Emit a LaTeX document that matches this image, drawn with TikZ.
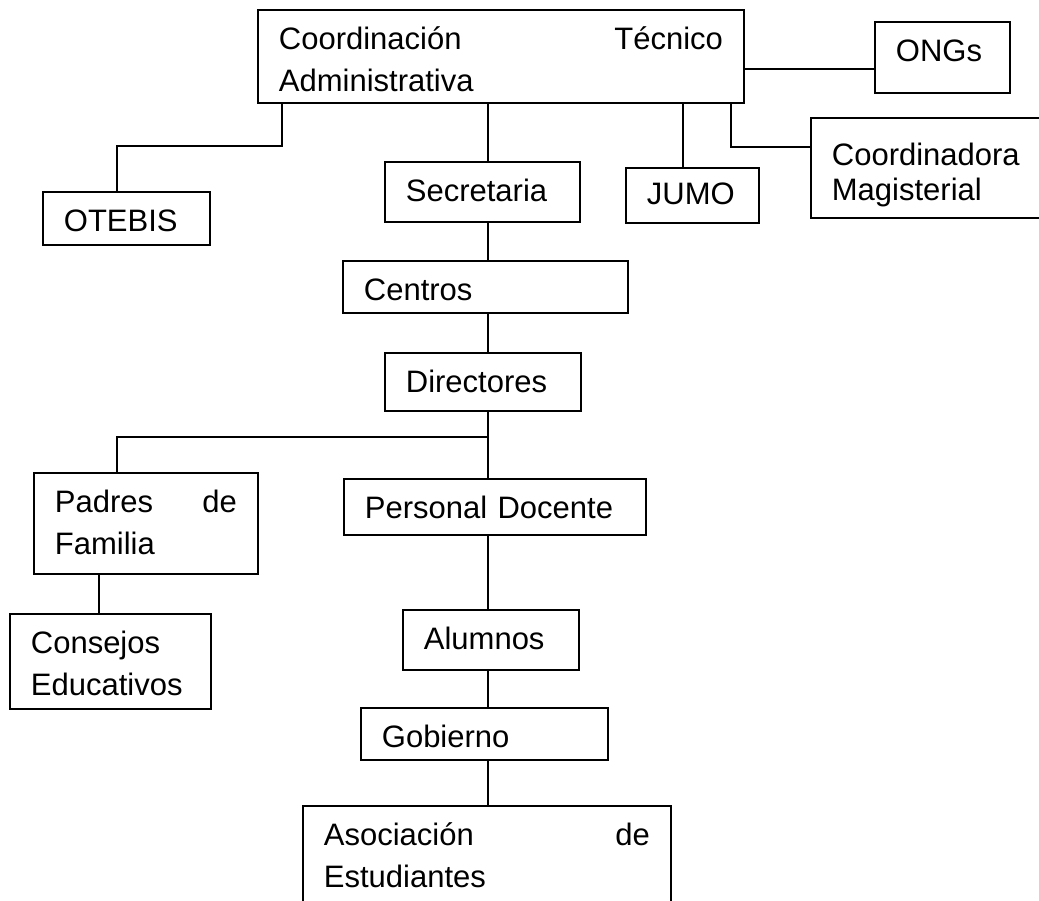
\documentclass[tikz,border=0pt]{standalone}
\usepackage{fontspec}
\setmainfont{Liberation Sans}

\begin{document}
\begin{tikzpicture}[x=1pt,y=-1pt,
	caja/.style 2 args={draw, line width=1.8pt, anchor=north west, inner xsep=21pt, inner ysep=0pt,
		align=left, text width=#1-42, text height=40pt, text depth=#2-40,
		font=\fontsize{31}{42}\selectfont},
	enlace/.style={line width=1.6pt}]
	
	\clip (0,0) rectangle (1039,901);
	
	\node[caja={486}{93}] (cta) at (257,9) {Coordinación\hfill Técnico\\Administrativa};
	\node[caja={135}{71}] (ongs) at (874,21) {ONGs};
	\node[caja={240}{100}, text height=48pt, text depth=52pt, font=\fontsize{31}{35}\selectfont] (coordmag) at (810,117) {Coordinadora\\Magisterial};
	\node[caja={167}{53}] (otebis) at (42,191) {OTEBIS};
	\node[caja={195}{60}] (sec) at (384,161) {Secretaria};
	\node[caja={133}{55}, text height=37pt, text depth=18pt] (jumo) at (625,167) {JUMO};
	\node[caja={285}{52}] (centros) at (342,260) {Centros};
	\node[caja={196}{58}] (dir) at (384,352) {Directores};
	\node[caja={224}{101}] (padres) at (33,472) {Padres\hfill de\\Familia};
	\node[caja={302}{56}] (pdoc) at (343,478) {Personal Docente};
	\node[caja={201}{95}] (consejos) at (9,613) {Consejos\\Educativos};
	\node[caja={176}{60}] (alumnos) at (402,609) {Alumnos};
	\node[caja={247}{52}] (gob) at (360,707) {Gobierno};
	\node[caja={368}{110}] (asoc) at (302,805) {Asociación\hfill de\\Estudiantes};
	
	% ejes y codos
	\coordinate (eje) at (488,0);
	\coordinate (ejeJ) at (683,0);
	\coordinate (ejeC) at (731,147);
	\coordinate (ejeP) at (99,0);
	\coordinate (hOng) at (0,69);
	\coordinate (codoO) at (117,146);
	\coordinate (codoP) at (117,437);
	
	\draw[enlace] ([xshift=25]cta.south west) |- (codoO) -- (codoO |- otebis.north);
	\draw[enlace] (cta.south -| eje) -- (sec.north -| eje);
	\draw[enlace] (cta.south -| ejeJ) -- (jumo.north -| ejeJ);
	\draw[enlace] (cta.south -| ejeC) |- (coordmag.west |- ejeC);
	\draw[enlace] (cta.east |- hOng) -- (ongs.west |- hOng);
	
	\draw[enlace] (sec.south -| eje) -- (centros.north -| eje);
	\draw[enlace] (centros.south -| eje) -- (dir.north -| eje);
	\draw[enlace] (dir.south -| eje) -- (pdoc.north -| eje);
	\draw[enlace] (codoP -| eje) -| (padres.north -| codoP);
	\draw[enlace] (padres.south -| ejeP) -- (consejos.north -| ejeP);
	
	\draw[enlace] (pdoc.south -| eje) -- (alumnos.north -| eje);
	\draw[enlace] (alumnos.south -| eje) -- (gob.north -| eje);
	\draw[enlace] (gob.south -| eje) -- (asoc.north -| eje);
	
\end{tikzpicture}
\end{document}
